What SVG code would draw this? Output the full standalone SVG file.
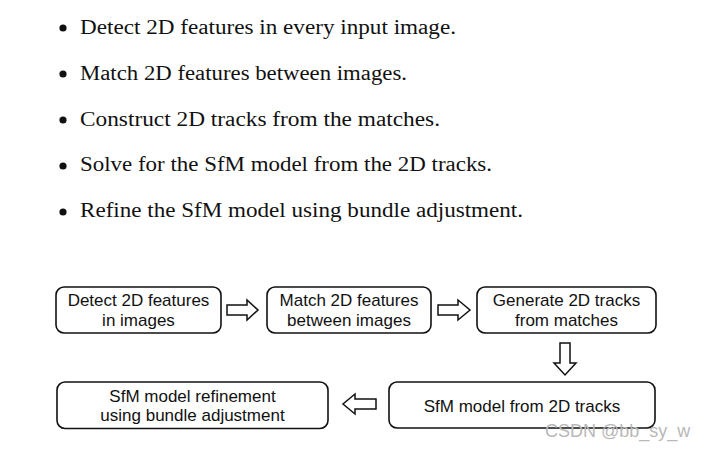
<svg xmlns="http://www.w3.org/2000/svg" width="706" height="449" viewBox="0 0 706 449">
<style>
.bt{font-family:"Liberation Serif","Times New Roman",serif;font-size:20px;fill:#111}
.box{fill:#fff;stroke:#111;stroke-width:1.6}
.lbl{font-family:"Liberation Sans",Arial,sans-serif;font-size:17px;fill:#111;text-anchor:middle}
.arr{fill:#fff;stroke:#111;stroke-width:1.5;stroke-linejoin:miter}
.wm{font-family:"Liberation Sans",Arial,sans-serif;font-size:18px;fill:#b8b8b8}
</style>
<rect width="706" height="449" fill="#fff"/>
<g id="bullets">
<circle cx="63" cy="28" r="3.6" fill="#111"/>
<text class="bt" x="80" y="34" textLength="376" lengthAdjust="spacingAndGlyphs">Detect 2D features in every input image.</text>
<circle cx="63" cy="74" r="3.6" fill="#111"/>
<text class="bt" x="80" y="80" textLength="327" lengthAdjust="spacingAndGlyphs">Match 2D features between images.</text>
<circle cx="63" cy="120" r="3.6" fill="#111"/>
<text class="bt" x="80" y="125.5" textLength="360" lengthAdjust="spacingAndGlyphs">Construct 2D tracks from the matches.</text>
<circle cx="63" cy="166" r="3.6" fill="#111"/>
<text class="bt" x="80" y="171" textLength="412" lengthAdjust="spacingAndGlyphs">Solve for the SfM model from the 2D tracks.</text>
<circle cx="63" cy="212" r="3.6" fill="#111"/>
<text class="bt" x="80" y="217" textLength="443" lengthAdjust="spacingAndGlyphs">Refine the SfM model using bundle adjustment.</text>
</g>
<g id="n1">
<rect class="box" x="56" y="287" width="165" height="46" rx="8"/>
<text class="lbl" x="138.5" y="306">Detect 2D features</text>
<text class="lbl" x="138.5" y="326">in images</text>
</g>
<g id="n2">
<rect class="box" x="267" y="287" width="164" height="46" rx="8"/>
<text class="lbl" x="349" y="306">Match 2D features</text>
<text class="lbl" x="349" y="326">between images</text>
</g>
<g id="n3">
<rect class="box" x="477" y="287" width="179" height="46" rx="8"/>
<text class="lbl" x="566.5" y="306">Generate 2D tracks</text>
<text class="lbl" x="566.5" y="326">from matches</text>
</g>
<g id="n4">
<rect class="box" x="57" y="382" width="271" height="46.5" rx="8"/>
<text class="lbl" x="192.5" y="401.5">SfM model refinement</text>
<text class="lbl" x="192.5" y="420.5">using bundle adjustment</text>
</g>
<g id="n5">
<rect class="box" x="389" y="382" width="266" height="46" rx="8"/>
<text class="lbl" x="522" y="411.5">SfM model from 2D tracks</text>
</g>
<g id="connectors">
<path class="arr" d="M227,305 H247 V300 L258,310 L247,320 V315 H227 Z"/>
<path class="arr" d="M438,305 H458 V300 L470,310 L458,320 V315 H438 Z"/>
<path class="arr" d="M560,343 V363 H554 L565,375 L576,363 H570 V343 Z"/>
<path class="arr" d="M376,399 H355 V394 L343,404 L355,414 V409 H376 Z"/>
</g>
<text class="wm" x="545" y="437">CSDN @bb_sy_w</text>
</svg>
